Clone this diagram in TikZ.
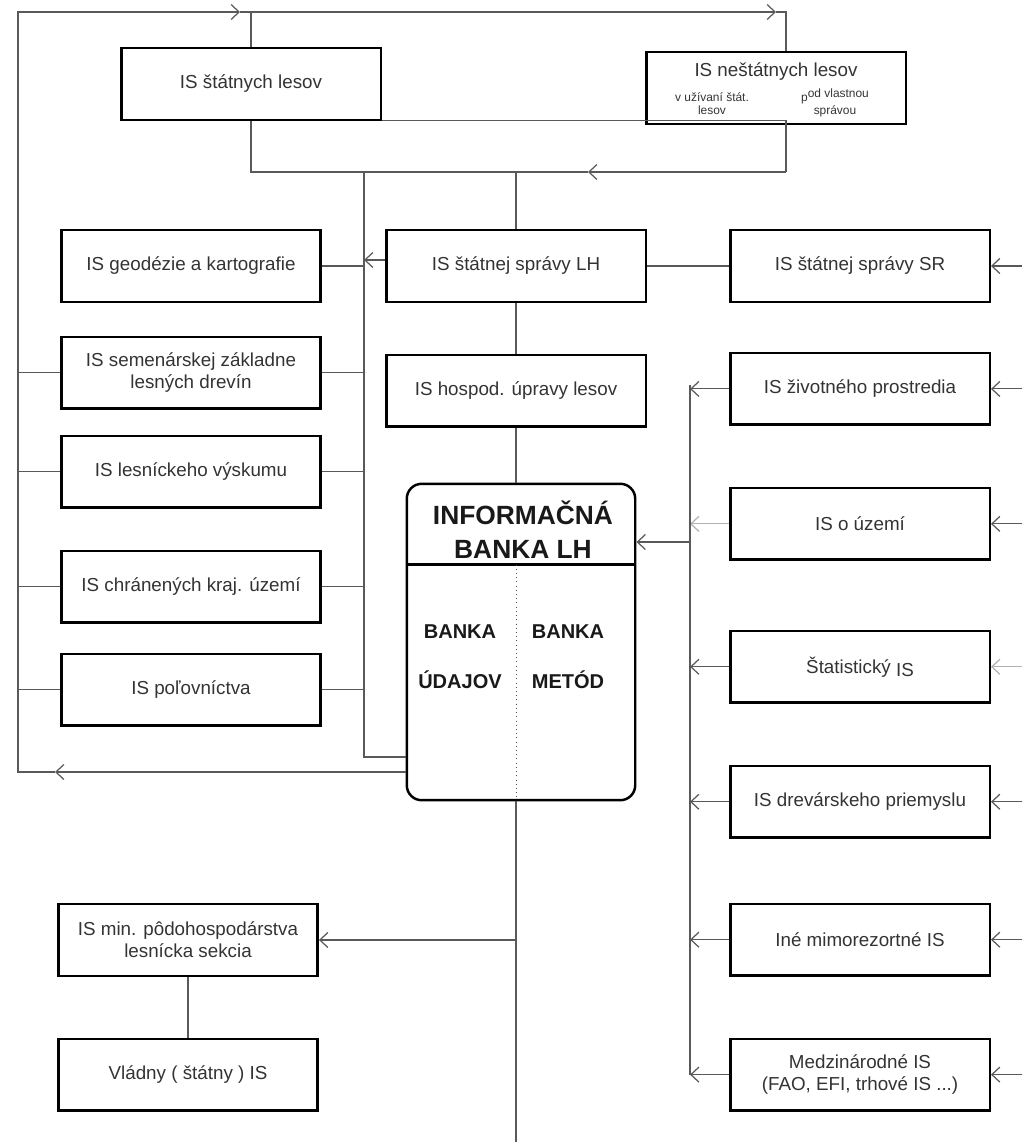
\documentclass[tikz,border=0pt]{standalone}
\usepackage{fontspec}
\setmainfont{Liberation Sans}
\usetikzlibrary{arrows.meta, positioning, calc}

\begin{document}
\begin{tikzpicture}[
    x=0.02cm, y=-0.02cm,
    box/.style={draw, line width=1.4pt, rectangle, minimum width=5.19cm, minimum height=1.43cm, align=center, text=black!80, font=\fontsize{10.7}{12.5}\selectfont},
    tiny/.style={align=center, text=black!80, font=\fontsize{6.8}{7.4}\selectfont},
    banktext/.style={align=center, text=black!90, font=\bfseries\fontsize{11.4}{28.5}\selectfont},
    link/.style={draw=black!65, line width=0.6pt},
    faint/.style={draw=black!30, line width=0.6pt},
    >={Straight Barb[length=1.6mm, width=3mm, line width=0.7pt]},
    node distance=1cm
]
    \useasboundingbox (0,0) rectangle (1022,1142);

    % Forests at the top
    \node[box] (statne) at (251,84) {IS štátnych lesov};
    \node[box] (nestatne) at (776,88) {};
    \node[text=black!80, font=\fontsize{10.7}{12.5}\selectfont] (nestitle) at (776,72) {IS neštátnych lesov};
    \node[tiny] (uziv) at (712,104) {v užívaní štát.\\lesov};
    \node[tiny] (vlast) at (835,103) {p\raisebox{0.7ex}{od vlastnou}\\správou};

    % Left column
    \node[box] (geod) at (191,266) {IS geodézie a kartografie};
    \node[box, below=0.66cm of geod] (semen) {IS semenárskej základne\\lesných drevín};
    \node[box, below=0.50cm of semen] (vysk) {IS lesníckeho výskumu};
    \node[box, below=0.82cm of vysk] (chran) {IS chránených kraj. území};
    \node[box, below=0.58cm of chran] (polov) {IS poľovníctva};

    % Centre column
    \node[box] (LH) at (516,266) {IS štátnej správy LH};
    \node[box, below=1.02cm of LH] (hosp) {IS hospod. úpravy lesov};

    % Bank
    \node[draw, line width=1.4pt, rounded corners=0.3cm, minimum width=4.57cm, minimum height=6.33cm] (bank) at (521,642) {};
    \coordinate (dl) at ($(bank.north west)!0.257!(bank.south west)$);
    \coordinate (dr) at ($(bank.north east)!0.257!(bank.south east)$);
    \draw[line width=1.2pt] (dl) -- (dr);
    \draw[black!70, dotted] (dl -| hosp.south) -- (bank.south -| hosp.south);
    \node[align=center, text=black!90, font=\bfseries\fontsize{15}{19.3}\selectfont] (banktitle) at (523,530) {INFORMAČNÁ\\BANKA LH};
    \node[banktext] (udaje) at (460,657) {BANKA\\ÚDAJOV};
    \node[banktext] (metody) at (568,657) {BANKA\\METÓD};

    % Right column
    \node[box] (SR) at (860,266) {IS štátnej správy SR};
    \node[box, below=0.98cm of SR] (ziv) {IS životného prostredia};
    \node[box, below=1.22cm of ziv] (uzemi) {IS o území};
    \node[box, below=1.38cm of uzemi] (stat) {Štatistický \raisebox{-0.35ex}{IS}};
    \node[box, below=1.22cm of stat] (drev) {IS drevárskeho priemyslu};
    \node[box, below=1.28cm of drev] (ine) {Iné mimorezortné IS};
    \node[box, below=1.22cm of ine] (medz) {Medzinárodné IS\\(FAO, EFI, trhové IS ...)};

    % Ministry
    \node[box] (min) at (188,940) {IS min. pôdohospodárstva\\lesnícka sekcia};
    \node[box, below=1.22cm of min] (vlad) {Vládny ( štátny ) IS};

    % Junctions
    \coordinate (lt) at (18,12);
    \coordinate (lb) at (18,772);
    \coordinate (rt) at (786,12);
    \coordinate (jn) at (786,172);
    \coordinate (cv) at (364,172);
    \coordinate (cb) at (364,757);
    \coordinate (rv) at (690,385);
    \coordinate (rb) at (690,542);
    \coordinate (ext) at (1022,0);
    \coordinate (bot) at (516,1142);
    \coordinate (ar1) at (55,772);
    \coordinate (ar2) at (240,12);
    \coordinate (ar3) at (776,12);
    \coordinate (ar4) at (588,172);

    % Outer loop
    \draw[link, ->] (bank.west |- lb) -- (ar1);
    \draw[link, ->] (ar1) -- (lb) -- (lt) -- (ar2);
    \draw[link] (ar2) -- (statne.north |- lt) -- (statne.north);
    \draw[link, ->] (ar2) -- (ar3);
    \draw[link] (ar3) -- (rt) -- (rt |- nestatne.north);

    % Forests loop
    \draw[link] (statne.south east) -- (statne.south east -| jn) -- (jn);
    \draw[link, ->] (jn) -- (ar4);
    \draw[link] (ar4) -- (statne.south |- jn) -- (statne.south);

    % Trunk
    \draw[link] (cv) -- (cb) -- (bank.west |- cb);
    \draw[link] (LH.north |- jn) -- (LH.north);
    \draw[link, ->] ([yshift=0.12cm]LH.west) -- ([yshift=0.12cm]LH.west -| cv);
    \foreach \b in {geod, semen, vysk, chran, polov}
        \draw[link] (\b.east) -- (\b.east -| cv);
    \foreach \b in {semen, vysk, chran, polov}
        \draw[link] (\b.west) -- (\b.west -| lt);
    \draw[link] (LH.east) -- (SR.west);
    \draw[link, ->] (SR.east -| ext) -- (SR.east);
    \draw[link] (LH.south) -- (hosp.north);
    \draw[link] (hosp.south) -- (bank.north -| hosp.south);

    % Inputs from the right
    \foreach \b/\l/\r in {ziv/link/link, uzemi/faint/link, stat/link/faint, drev/link/link, ine/link/link, medz/link/link} {
        \draw[\l, ->] (\b.west) -- (\b.west -| rv);
        \draw[\r, ->] (\b.east -| ext) -- (\b.east);
    }
    \draw[link] (rv) -- (medz.west -| rv);
    \draw[link, ->] (rb) -- (bank.east |- rb);

    % Bottom
    \draw[link] (bank.south -| hosp.south) -- (bot);
    \draw[link, ->] (min.east -| bot) -- (min.east);
    \draw[link] (min.south) -- (vlad.north);
\end{tikzpicture}
\end{document}
